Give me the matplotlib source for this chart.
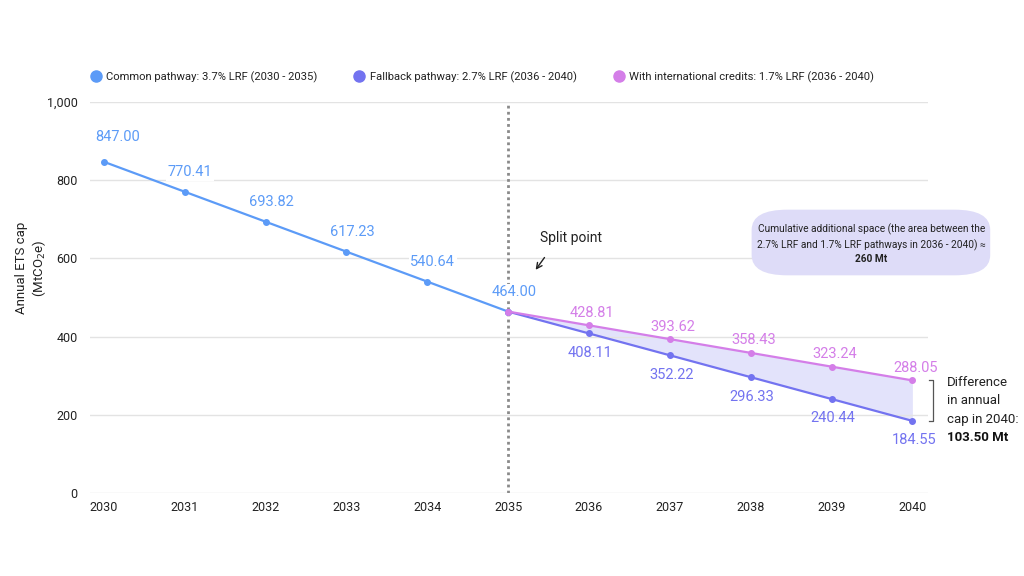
"""EU ETS cap pathways 2030-2040: common, fallback and international-credit variants."""

import matplotlib.pyplot as plt
from matplotlib.lines import Line2D
from matplotlib.patches import FancyBboxPatch

plt.rcParams["font.family"] = ["Roboto", "DejaVu Sans"]

years_common = [2030, 2031, 2032, 2033, 2034, 2035]
cap_common = [847.00, 770.41, 693.82, 617.23, 540.64, 464.00]

years_late = [2035, 2036, 2037, 2038, 2039, 2040]
cap_fallback = [464.00, 408.11, 352.22, 296.33, 240.44, 184.55]
cap_credits = [464.00, 428.81, 393.62, 358.43, 323.24, 288.05]

year_ticks = list(range(2030, 2041))
y_ticks = [0, 200, 400, 600, 800, 1000]

C_COMMON = "#5c9bf7"
C_FALL = "#7373f0"
C_CRED = "#d47ee8"
C_FILL = "#dcdcfa"
C_GRID = "#e3e3e3"
C_TEXT = "#222222"

fig = plt.figure(figsize=(10.24, 5.76), dpi=100)
ax = fig.add_axes([0.088, 0.144, 0.818, 0.679])

ax.fill_between(years_late, cap_fallback, cap_credits, color=C_FILL, alpha=0.8, lw=0, zorder=1)
ax.plot(years_common, cap_common, color=C_COMMON, lw=1.6, marker="o", ms=4, zorder=3)
ax.plot(years_late, cap_fallback, color=C_FALL, lw=1.6, marker="o", ms=4, zorder=3)
ax.plot(years_late, cap_credits, color=C_CRED, lw=1.6, marker="o", ms=4, zorder=4)

# split line
ax.vlines(2035, 0, 1000, colors="#8a8a8a", linestyles=(0, (1, 1.2)), lw=2, zorder=2)

# value labels (white backing so the split line doesn't run through them)
for i, (x, y) in enumerate(zip(years_common, cap_common)):
    dx = 10 if i == 0 else 4
    dy = 18 if i == 0 else 14
    ax.annotate(f"{y:.2f}", (x, y), xytext=(dx, dy), textcoords="offset points",
                ha="center", va="center", color=C_COMMON, fontsize=10.5, zorder=5,
                bbox=dict(boxstyle="square,pad=0.1", fc="white", ec="none"))
for x, y in zip(years_late[1:], cap_fallback[1:]):
    ax.annotate(f"{y:.2f}", (x, y), xytext=(1, -14), textcoords="offset points",
                ha="center", va="center", color=C_FALL, fontsize=10.5)
for x, y in zip(years_late[1:], cap_credits[1:]):
    ax.annotate(f"{y:.2f}", (x, y), xytext=(2, 9), textcoords="offset points",
                ha="center", va="center", color=C_CRED, fontsize=10.5)

ax.annotate("", xy=(2035.32, 565), xytext=(2035.47, 608),
            arrowprops=dict(arrowstyle="->", color=C_TEXT, lw=1))
ax.text(2035.4, 653, "Split point", fontsize=10, color=C_TEXT, ha="left", va="center")

# axes styling
ax.set_xlim(2029.83, 2040.19)
ax.set_ylim(0, 1000)
ax.set_xticks(year_ticks)
ax.set_yticks(y_ticks)
ax.set_yticklabels([f"{v:,}" for v in y_ticks])
ax.tick_params(length=0, labelsize=9, colors=C_TEXT, pad=6)
ax.tick_params(axis="y", pad=9)
ax.grid(axis="y", color=C_GRID, lw=1, zorder=0)
for s in ax.spines.values():
    s.set_visible(False)
ax.set_ylabel("Annual ETS cap\n(MtCO$_2$e)", fontsize=9.5, color=C_TEXT, va="center",
              linespacing=1.2)
ax.yaxis.set_label_coords(-0.07, 0.575)

# callout box
box = FancyBboxPatch((0.746, 0.534), 0.209, 0.09,
                     boxstyle="round,pad=0.012,rounding_size=0.035",
                     transform=fig.transFigure, fc="#dedcf8", ec="none", zorder=1)
fig.patches.append(box)
fig.text(0.851, 0.602, "Cumulative additional space (the area between the",
         ha="center", va="center", fontsize=7.3, color=C_TEXT, zorder=6)
fig.text(0.851, 0.575, "2.7% LRF and 1.7% LRF pathways in 2036 - 2040) ≈",
         ha="center", va="center", fontsize=7.3, color=C_TEXT, zorder=6)
fig.text(0.851, 0.550, "260 Mt", ha="center", va="center", fontsize=7.3,
         fontweight="bold", color=C_TEXT, zorder=6)

# bracket for 2040 difference
bx = 2040.2
ax.plot([bx, bx + 0.06, bx + 0.06, bx],
        [cap_credits[-1], cap_credits[-1], cap_fallback[-1], cap_fallback[-1]],
        color="#555555", lw=0.9, clip_on=False)
fig.text(0.925, 0.304, "Difference\nin annual\ncap in 2040:", fontsize=9.5, color=C_TEXT,
         ha="left", va="center", linespacing=1.55)
fig.text(0.925, 0.24, "103.50 Mt", fontsize=9.5, fontweight="bold", color="#111111",
         ha="left", va="center")

# legend
handles = [
    Line2D([], [], marker="o", ls="none", ms=8, color=C_COMMON),
    Line2D([], [], marker="o", ls="none", ms=8, color=C_FALL),
    Line2D([], [], marker="o", ls="none", ms=8, color=C_CRED),
]
labels = [
    "Common pathway: 3.7% LRF (2030 - 2035)",
    "Fallback pathway: 2.7% LRF (2036 - 2040)",
    "With international credits: 1.7% LRF (2036 - 2040)",
]
fig.legend(handles, labels, loc="center left", bbox_to_anchor=(0.078, 0.866), ncol=3,
           frameon=False, fontsize=8.1, handletextpad=0.45, columnspacing=3.2,
           handlelength=1.0, labelcolor=C_TEXT)

fig.savefig("out.png", dpi=100)
